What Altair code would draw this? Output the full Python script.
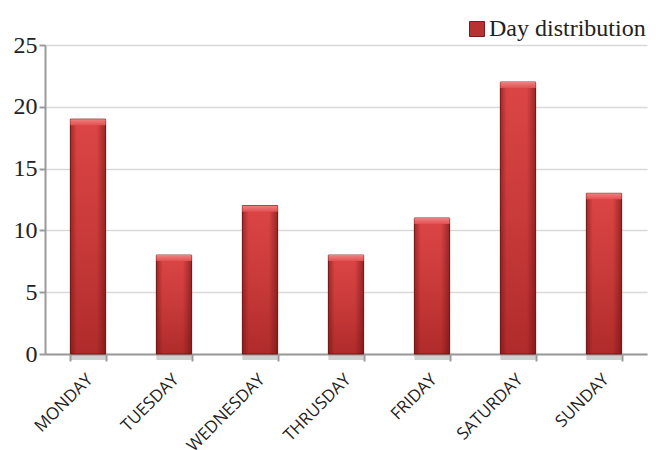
import altair as alt
import pandas as pd

days = ["MONDAY", "TUESDAY", "WEDNESDAY", "THRUSDAY", "FRIDAY", "SATURDAY", "SUNDAY"]
counts = [19, 8, 12, 8, 11, 22, 13]
series = ["Day distribution"] * len(days)

df = pd.DataFrame({"day": days, "count": counts, "series": series})

x_enc = alt.X(
    "day:N",
    sort=days,
    scale=alt.Scale(paddingInner=0.59, paddingOuter=0.295),
    axis=alt.Axis(
        title=None,
        labelAngle=-45,
        labelAlign="right",
        labelBaseline="top",
        labelFont="Open Sans",
        labelFontSize=17,
        labelColor="#222222",
        labelPadding=10,
        labelOffset=-4,
        tickBand="extent",
        tickSize=7,
        tickColor="#9a9a9a",
        tickWidth=2,
        domainColor="#9a9a9a",
        domainWidth=2,
        grid=False,
    ),
)
y_scale = alt.Scale(domain=[0, 25], nice=False)
y_axis = alt.Axis(
    title=None,
    values=[0, 5, 10, 15, 20, 25],
    labelFont="Liberation Serif",
    labelFontSize=24,
    labelColor="#222222",
    labelPadding=2,
    tickSize=6,
    tickColor="#9a9a9a",
    tickWidth=2,
    domainColor="#9a9a9a",
    domainWidth=2,
    gridColor="#d9d9d9",
    gridWidth=1.5,
)

base = alt.Chart(df)

# soft shadow just under each bar
shadow = base.mark_bar(color="#9a9a9a", opacity=0.45, yOffset=6).encode(
    x=alt.X("day:N", sort=days),
    y=alt.Y("count:Q"),
)

# solid bars carry the legend
solid = base.mark_bar().encode(
    x=x_enc,
    y=alt.Y("count:Q", scale=y_scale, axis=y_axis),
    color=alt.Color(
        "series:N",
        scale=alt.Scale(range=["#b83232"]),
        legend=alt.Legend(
            title=None,
            orient="none",
            legendX=420,
            legendY=-28,
            padding=0,
            symbolType="square",
            symbolSize=225,
            symbolStrokeColor="#7a1a1a",
            symbolStrokeWidth=1,
            labelFont="Liberation Serif",
            labelFontSize=24,
            labelColor="#222222",
            labelOffset=0,
        ),
    ),
)

# vertical shading from a bright top to a deeper base
shade = base.mark_bar(
    stroke="#7a1a1a",
    strokeWidth=1,
    color=alt.Gradient(
        gradient="linear",
        x1=0, x2=0, y1=0, y2=1,
        stops=[
            alt.GradientStop(color="#dc4545", offset=0),
            alt.GradientStop(color="#c93a3a", offset=0.5),
            alt.GradientStop(color="#b02b2b", offset=1),
        ],
    ),
).encode(x=alt.X("day:N", sort=days), y=alt.Y("count:Q"))

# darker side edges
edges = base.mark_bar(
    color=alt.Gradient(
        gradient="linear",
        x1=0, x2=1, y1=0, y2=0,
        stops=[
            alt.GradientStop(color="rgba(90,10,10,0.45)", offset=0),
            alt.GradientStop(color="rgba(90,10,10,0.0)", offset=0.18),
            alt.GradientStop(color="rgba(90,10,10,0.0)", offset=0.75),
            alt.GradientStop(color="rgba(90,10,10,0.5)", offset=1),
        ],
    ),
).encode(x=alt.X("day:N", sort=days), y=alt.Y("count:Q"))

# bevelled highlight on the top of each bar
cap = base.mark_bar(
    color=alt.Gradient(
        gradient="linear",
        x1=0, x2=0, y1=0, y2=1,
        stops=[
            alt.GradientStop(color="#f08080", offset=0),
            alt.GradientStop(color="#e05050", offset=1),
        ],
    ),
    y2Offset=6,
).encode(x=alt.X("day:N", sort=days), y=alt.Y("count:Q"), y2=alt.Y2("count:Q"))

chart = (
    alt.layer(shadow, solid, shade, edges, cap)
    .properties(
        width=602,
        height=309,
        padding={"left": 45, "top": 45, "right": 12, "bottom": 96},
        autosize=alt.AutoSizeParams(type="none"),
        background="white",
    )
    .configure_view(stroke=None)
)

chart.save("out.html", embed_options={"renderer": "svg", "actions": False})
